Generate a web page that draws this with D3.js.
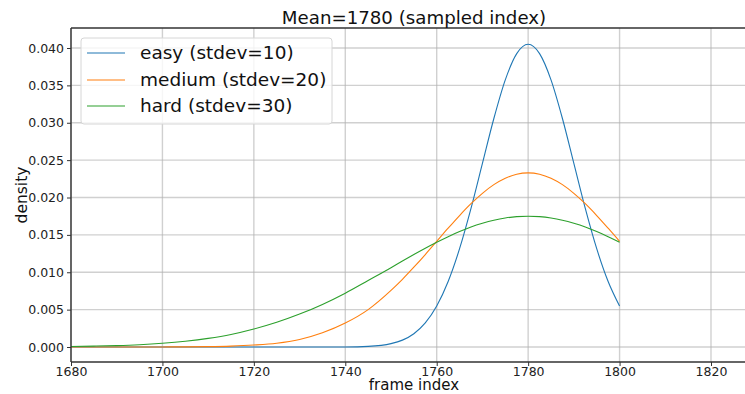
<!DOCTYPE html>
<html>
<head>
<meta charset="utf-8">
<script src="https://cdn.jsdelivr.net/npm/d3@7"></script>
<style>
  body { margin: 0; background: #fff; overflow: hidden; }
  svg { display: block; font-family: "DejaVu Sans", sans-serif; }
</style>
</head>
<body>
<script>
// frame indices: every 5 frames up to 1750, then every 2.5 frames
var frames = [1680, 1685, 1690, 1695, 1700, 1705, 1710, 1715, 1720, 1725, 1730, 1735, 1740, 1745, 1750,
              1752.5, 1755, 1757.5, 1760, 1762.5, 1765, 1767.5, 1770, 1772.5, 1775, 1777.5, 1780,
              1782.5, 1785, 1787.5, 1790, 1792.5, 1795, 1797.5, 1800];

// densities
var easyVals = [0, 0, 0, 0, 0, 0, 0, 0, 0, 0, 0, 0, 0.00001, 0.00009, 0.00045,
                0.00092, 0.00178, 0.00322, 0.00548, 0.00876, 0.01315, 0.01854, 0.02456, 0.03057,
                0.03574, 0.03925, 0.0405,
                0.03925, 0.03574, 0.03057, 0.02456, 0.01854, 0.01315, 0.00876, 0.00548];
var mediumVals = [0, 0, 0, 0, 0.00001, 0.00002, 0.00005, 0.00012, 0.00026, 0.0005, 0.0010,
                  0.0019, 0.0032, 0.0050, 0.00757,
                  0.00905, 0.01067, 0.01237, 0.01413, 0.01589, 0.01759, 0.01917, 0.02056, 0.02172,
                  0.02258, 0.02312, 0.0233,
                  0.02312, 0.02258, 0.02172, 0.02056, 0.01917, 0.01759, 0.01589, 0.01413];
var hardVals = [0.00007, 0.00012, 0.00019, 0.00031, 0.0005, 0.00077, 0.00115, 0.00167, 0.0024,
                0.0033, 0.0044, 0.0057, 0.0072, 0.0089, 0.01061,
                0.01150, 0.01237, 0.01321, 0.01401, 0.01476, 0.01544, 0.01605, 0.01655, 0.01696,
                0.01726, 0.01744, 0.0175,
                0.01744, 0.01726, 0.01696, 0.01655, 0.01605, 0.01544, 0.01476, 0.01401];

var seriesNames = ["easy (stdev=10)", "medium (stdev=20)", "hard (stdev=30)"];
var colors = ["#1f77b4", "#ff7f0e", "#2ca02c"];

var xTicks = [1680, 1700, 1720, 1740, 1760, 1780, 1800, 1820];
var yTicks = [0, 0.005, 0.010, 0.015, 0.020, 0.025, 0.030, 0.035, 0.040];

var W = 745, H = 394;
// the axes run a bit past the right edge of the window
var margin = {top: 28, left: 71},
    width = 757 - margin.left,
    height = 362 - margin.top;

var xScale = d3.scaleLinear().domain([1680, 1820]).range([0, 640]);
var yScale = d3.scaleLinear().domain([0, 0.040]).range([319, 20]);

var svg = d3.select("body").append("svg")
    .attr("width", W)
    .attr("height", H);

var g = svg.append("g")
    .attr("transform", "translate(" + margin.left + "," + margin.top + ")");

// grid
g.append("g").selectAll("line")
    .data(xTicks)
    .enter().append("line")
    .attr("x1", function(d) { return xScale(d); })
    .attr("x2", function(d) { return xScale(d); })
    .attr("y1", 0).attr("y2", height)
    .attr("stroke", "#b0b0b0").attr("stroke-opacity", 0.6).attr("stroke-width", 1.4);

g.append("g").selectAll("line")
    .data(yTicks)
    .enter().append("line")
    .attr("y1", function(d) { return yScale(d); })
    .attr("y2", function(d) { return yScale(d); })
    .attr("x1", 0).attr("x2", width)
    .attr("stroke", "#b0b0b0").attr("stroke-opacity", 0.6).attr("stroke-width", 1.4);

// curves
var allSeries = [easyVals, mediumVals, hardVals];

var line = d3.line()
    .x(function(d, i) { return xScale(frames[i]); })
    .y(function(d) { return yScale(d); })
    .curve(d3.curveMonotoneX);

g.append("g").selectAll("path")
    .data(allSeries)
    .enter().append("path")
    .attr("d", function(d) { return line(d); })
    .attr("fill", "none")
    .attr("stroke", function(d, i) { return colors[i]; })
    .attr("stroke-width", 1.1);

// axes
var xAxis = d3.axisBottom(xScale).tickValues(xTicks).tickSize(4).tickPadding(1.5)
    .tickFormat(d3.format("d"));
var yAxis = d3.axisLeft(yScale).tickValues(yTicks).tickSize(4).tickPadding(3)
    .tickFormat(d3.format(".3f"));

var gx = g.append("g")
    .attr("transform", "translate(0," + height + ")")
    .call(xAxis);
var gy = g.append("g").call(yAxis);

[gx, gy].forEach(function(a) {
  a.select(".domain").remove();
  a.selectAll("text").attr("font-size", 12.5).attr("fill", "#222")
      .attr("font-family", "DejaVu Sans");
  a.selectAll(".tick line").attr("stroke", "#333");
});

// spines
g.append("line").attr("x1", 0).attr("x2", 0).attr("y1", 0).attr("y2", height)
    .attr("stroke", "#333").attr("stroke-width", 1.4);
g.append("line").attr("x1", 0).attr("x2", width).attr("y1", height).attr("y2", height)
    .attr("stroke", "#333").attr("stroke-width", 1.4);
g.append("line").attr("x1", 0).attr("x2", width).attr("y1", 0).attr("y2", 0)
    .attr("stroke", "#333").attr("stroke-width", 1.4);

// title and labels
svg.append("text")
    .attr("x", margin.left + width / 2).attr("y", 24)
    .attr("text-anchor", "middle").attr("font-size", 18.2).attr("fill", "#111")
    .text("Mean=1780 (sampled index)");

svg.append("text")
    .attr("x", margin.left + width / 2).attr("y", 390)
    .attr("text-anchor", "middle").attr("font-size", 15).attr("fill", "#111")
    .text("frame index");

svg.append("text")
    .attr("transform", "translate(27," + (margin.top + height / 2) + ") rotate(-90)")
    .attr("text-anchor", "middle").attr("font-size", 15.5).attr("fill", "#111")
    .text("density");

// legend
var legend = g.append("g").attr("transform", "translate(10,10)");
legend.append("rect")
    .attr("width", 251).attr("height", 86).attr("rx", 3)
    .attr("fill", "#fff").attr("fill-opacity", 0.8)
    .attr("stroke", "#d6d6d6");

var items = legend.selectAll("g.item")
    .data(seriesNames)
    .enter().append("g")
    .attr("class", "item")
    .attr("transform", function(d, i) { return "translate(0," + [15, 42, 68][i] + ")"; });

items.append("line")
    .attr("x1", 6).attr("x2", 44)
    .attr("stroke", function(d, i) { return colors[i]; })
    .attr("stroke-width", 1.2);

items.append("text")
    .attr("x", 59).attr("dy", "0.35em")
    .attr("font-size", 18.5).attr("fill", "#111")
    .text(function(d) { return d; });
</script>
</body>
</html>
